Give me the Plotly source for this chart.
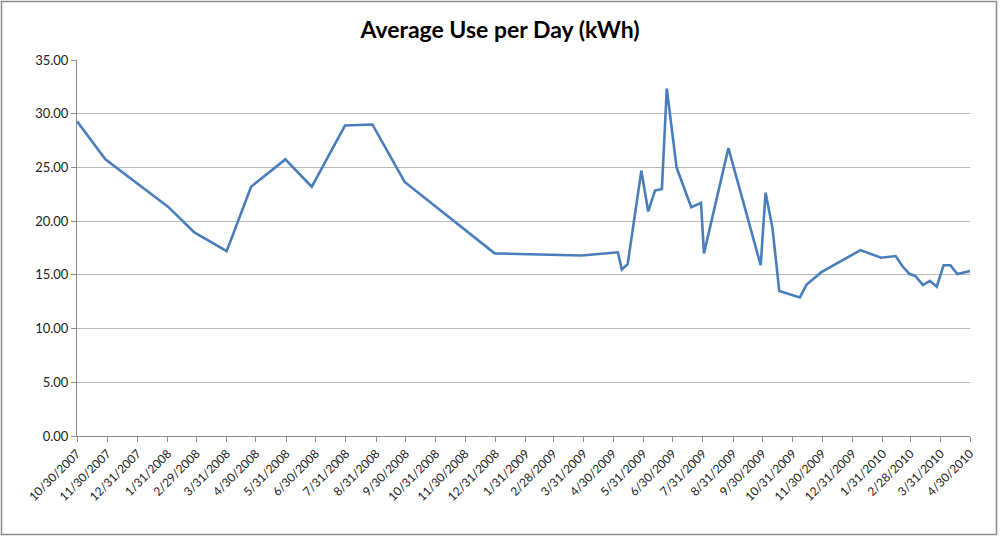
import plotly.graph_objects as go

dates = ["2007-10-30", "2007-11-28", "2008-01-31", "2008-02-27", "2008-03-31", "2008-04-25",
         "2008-05-30", "2008-06-26", "2008-07-30", "2008-08-27", "2008-09-29", "2008-12-30",
         "2009-03-29", "2009-05-05", "2009-05-09", "2009-05-15", "2009-05-29", "2009-06-05",
         "2009-06-12", "2009-06-19", "2009-06-24", "2009-07-04", "2009-07-19", "2009-07-29",
         "2009-08-01", "2009-08-26", "2009-09-28", "2009-10-03", "2009-10-10", "2009-10-17",
         "2009-11-07", "2009-11-14", "2009-11-29", "2010-01-08", "2010-01-29", "2010-02-13",
         "2010-02-20", "2010-02-27", "2010-03-05", "2010-03-13", "2010-03-20", "2010-03-27",
         "2010-04-03", "2010-04-10", "2010-04-17", "2010-04-23", "2010-04-30"]
values = [29.3, 25.75, 21.35, 18.95, 17.2, 23.2,
          25.75, 23.2, 28.9, 29.0, 23.65, 17.0,
          16.8, 17.1, 15.5, 16.0, 24.7, 20.9,
          22.85, 23.0, 32.35, 25.0, 21.3, 21.7,
          17.0, 26.8, 15.9, 22.65, 19.4, 13.5,
          12.9, 14.1, 15.25, 17.3, 16.6, 16.75,
          15.8, 15.1, 14.9, 14.05, 14.45, 13.9,
          15.9, 15.9, 15.07, 15.17, 15.35]

tick_dates = ["2007-10-30", "2007-11-30", "2007-12-31", "2008-01-31", "2008-02-29", "2008-03-31",
              "2008-04-30", "2008-05-31", "2008-06-30", "2008-07-31", "2008-08-31", "2008-09-30",
              "2008-10-31", "2008-11-30", "2008-12-31", "2009-01-31", "2009-02-28", "2009-03-31",
              "2009-04-30", "2009-05-31", "2009-06-30", "2009-07-31", "2009-08-31", "2009-09-30",
              "2009-10-31", "2009-11-30", "2009-12-31", "2010-01-31", "2010-02-28", "2010-03-31",
              "2010-04-30"]
tick_labels = ["10/30/2007", "11/30/2007", "12/31/2007", "1/31/2008", "2/29/2008", "3/31/2008",
               "4/30/2008", "5/31/2008", "6/30/2008", "7/31/2008", "8/31/2008", "9/30/2008",
               "10/31/2008", "11/30/2008", "12/31/2008", "1/31/2009", "2/28/2009", "3/31/2009",
               "4/30/2009", "5/31/2009", "6/30/2009", "7/31/2009", "8/31/2009", "9/30/2009",
               "10/31/2009", "11/30/2009", "12/31/2009", "1/31/2010", "2/28/2010", "3/31/2010",
               "4/30/2010"]
y_ticks = [0, 5, 10, 15, 20, 25, 30, 35]

fig = go.Figure()
fig.add_trace(go.Scatter(x=dates, y=values, mode="lines",
                         line=dict(color="#4A7EBB", width=2.6), showlegend=False))

L, R, T, B = 77, 30, 60, 101
W, H = 1000, 537
pw, ph = W - L - R, H - T - B

fig.update_layout(
    width=W, height=H,
    margin=dict(l=L, r=R, t=T, b=B),
    paper_bgcolor="white", plot_bgcolor="white",
    font=dict(family="Lato, Open Sans, sans-serif", color="#222222"),
    title=dict(text="<b>Average Use per Day (kWh)</b>", x=0.5, xanchor="center",
               y=1 - 30 / H, yanchor="middle",
               font=dict(size=23, color="black", family="Lato, Open Sans, sans-serif")),
    xaxis=dict(type="date", range=["2007-10-30", "2010-04-30"],
               tickvals=tick_dates, ticktext=tick_labels, tickangle=-45,
               showgrid=False, showline=True, linecolor="#8C8C8C", linewidth=1,
               ticks="outside", ticklen=5, tickcolor="#8C8C8C",
               tickfont=dict(size=12, color="#222222"), zeroline=False),
    yaxis=dict(range=[0, 35], tickvals=y_ticks, tickformat=".2f",
               showgrid=True, gridcolor="#B8B8B8", gridwidth=1,
               showline=True, linecolor="#8C8C8C", linewidth=1,
               ticks="outside", ticklen=5, tickcolor="#8C8C8C",
               tickfont=dict(size=13, color="#222222"), zeroline=False),
    shapes=[dict(type="rect", xref="paper", yref="paper",
                 x0=(1.5 - L) / pw, x1=(W - 3.5 - L) / pw,
                 y0=(H - B - (H - 2.5)) / ph, y1=(H - B - 1.5) / ph,
                 line=dict(color="#8C8C8C", width=1.5), fillcolor="rgba(0,0,0,0)", layer="below")]
)

fig.write_html("out.html", config={"displayModeBar": False})
with open("out.html", "r", encoding="utf-8") as f:
    html = f.read()
html = html.replace("<head>", "<head><style>html,body{margin:0;padding:0;overflow:hidden;}</style>", 1)
with open("out.html", "w", encoding="utf-8") as f:
    f.write(html)
